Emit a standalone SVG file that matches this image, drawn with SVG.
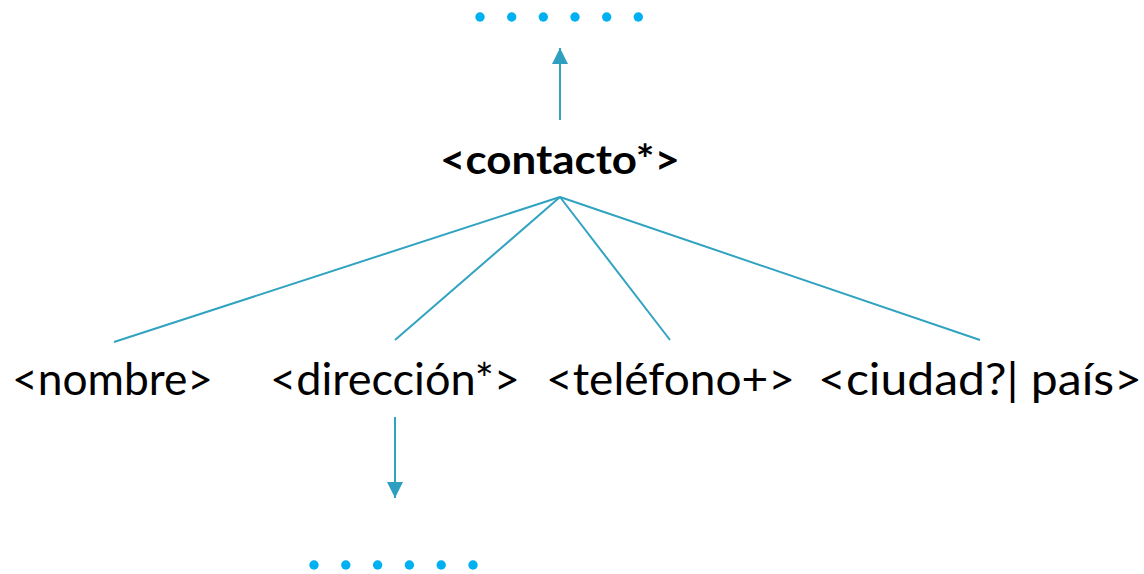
<svg xmlns="http://www.w3.org/2000/svg" width="1144" height="574" viewBox="0 0 1144 574">
<style>
.lbl{font-family:Lato,"Liberation Sans",sans-serif;font-size:44px;fill:#000}
.root{font-family:Lato,"Liberation Sans",sans-serif;font-size:40px;font-weight:bold;fill:#000}
.ln{stroke:#31A3C1;stroke-width:2;fill:none}
.dot{fill:#00B0F0}
</style>
<defs>
<marker id="ah" viewBox="0 0 16 16" refX="16" refY="8" markerWidth="16" markerHeight="16" markerUnits="userSpaceOnUse" orient="auto">
<path d="M0,0 L16,8 L0,16 Z" fill="#2E9FC0"/>
</marker>
</defs>
<rect width="1144" height="574" fill="#fff"/>
<g id="dots-top">
<circle class="dot" cx="480" cy="17" r="4.7"/>
<circle class="dot" cx="511.7" cy="17" r="4.7"/>
<circle class="dot" cx="543.3" cy="17" r="4.7"/>
<circle class="dot" cx="575" cy="17" r="4.7"/>
<circle class="dot" cx="606.7" cy="17" r="4.7"/>
<circle class="dot" cx="638.3" cy="17" r="4.7"/>
</g>
<g id="contacto"><text class="root" x="440" y="174" textLength="240" lengthAdjust="spacingAndGlyphs">&lt;contacto*&gt;</text></g>
<g id="nombre"><text class="lbl" x="12" y="395" textLength="201" lengthAdjust="spacingAndGlyphs">&lt;nombre&gt;</text></g>
<g id="direccion"><text class="lbl" x="270" y="395" textLength="250" lengthAdjust="spacingAndGlyphs">&lt;dirección*&gt;</text></g>
<g id="telefono"><text class="lbl" x="546" y="395" textLength="249" lengthAdjust="spacingAndGlyphs">&lt;teléfono+&gt;</text></g>
<g id="ciudad"><text class="lbl" x="818" y="395" textLength="324" lengthAdjust="spacingAndGlyphs">&lt;ciudad?| país&gt;</text></g>
<g id="dots-bottom">
<circle class="dot" cx="314" cy="565" r="4.7"/>
<circle class="dot" cx="345.8" cy="565" r="4.7"/>
<circle class="dot" cx="377.6" cy="565" r="4.7"/>
<circle class="dot" cx="409.4" cy="565" r="4.7"/>
<circle class="dot" cx="441.2" cy="565" r="4.7"/>
<circle class="dot" cx="473" cy="565" r="4.7"/>
</g>
<g id="connectors">
<line class="ln" x1="560" y1="120" x2="560" y2="48" marker-end="url(#ah)"/>
<line class="ln" x1="560" y1="197" x2="114" y2="342"/>
<line class="ln" x1="560" y1="197" x2="395" y2="340"/>
<line class="ln" x1="560" y1="197" x2="670" y2="340"/>
<line class="ln" x1="560" y1="197" x2="980" y2="340"/>
<line class="ln" x1="395" y1="417" x2="395" y2="498" marker-end="url(#ah)"/>
</g>
</svg>
